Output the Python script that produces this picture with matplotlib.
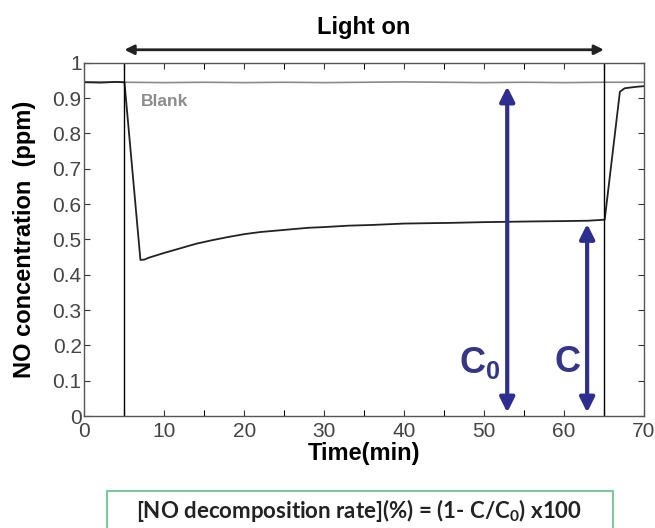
# coding: utf-8

# NO concentration during photocatalysis test (light on between 5 and 65 min)

import numpy as np
import matplotlib.pyplot as plt
from matplotlib.patches import FancyBboxPatch

plt.rcParams['font.family'] = ['Liberation Sans', 'DejaVu Sans']
plt.rcParams['mathtext.fontset'] = 'custom'
plt.rcParams['mathtext.rm'] = 'Liberation Sans:bold'
plt.rcParams['mathtext.bf'] = 'Liberation Sans:bold'

# Measured NO concentration (ppm) vs time (min)
time_min = [0, 2, 4, 5, 7.0, 7.5, 8, 9, 10, 12, 14, 16, 18, 20, 22, 25,
            28, 30, 33, 36, 40, 43, 46, 50, 53, 56, 60, 63, 65.1, 67.0,
            67.6, 69, 70]
no_ppm = [0.945, 0.944, 0.946, 0.945, 0.442, 0.443, 0.448, 0.455, 0.462,
          0.475, 0.488, 0.498, 0.507, 0.515, 0.521, 0.527, 0.533, 0.535, 0.539,
          0.541, 0.545, 0.546, 0.547, 0.549, 0.550, 0.551, 0.552, 0.553, 0.556,
          0.918, 0.928, 0.932, 0.934]

# Blank run (no light)
blank_time = [0, 5, 10, 15, 20, 25, 30, 35, 40, 45, 50, 55, 60, 65, 70]
blank_ppm = [0.946, 0.945, 0.944, 0.945, 0.944, 0.945, 0.944, 0.945, 0.946,
             0.945, 0.944, 0.945, 0.944, 0.945, 0.945]

light_on = (5, 65)
c0_value = 0.945
c_value = 0.556
c0_time = 52.9
c_time = 62.9

fig = plt.figure(figsize=(6.55, 5.28), dpi=100)
ax = fig.add_axes([0.129, 0.212, 0.854, 0.669])

ax.plot(blank_time, blank_ppm, color='#8a8a8a', lw=1.2)
ax.plot(time_min, no_ppm, color='#222222', lw=1.3)
for t in light_on:
    ax.axvline(t, color='black', lw=1.0)

ax.set_xlim(0, 70)
ax.set_ylim(0, 1)
ax.set_xticks(np.arange(0, 71, 10))
ax.set_xticks(np.arange(0, 71, 5), minor=True)
ax.set_yticks(np.arange(0, 1.01, 0.1))
ax.set_yticklabels(['0', '0.1', '0.2', '0.3', '0.4', '0.5', '0.6', '0.7', '0.8', '0.9', '1'])
ax.tick_params(direction='in', top=True, right=True, labelsize=15, length=4,
               width=0.8, colors='#333333', labelcolor='#444444')
ax.tick_params(axis='y', pad=2)
ax.tick_params(axis='x', pad=4)
ax.tick_params(which='minor', direction='in', top=True, length=4, width=0.8)
for s in ax.spines.values():
    s.set_color('#555555')
    s.set_linewidth(1.0)

ax.set_xlabel('Time(min)', fontsize=17, fontweight='bold', labelpad=1)
ax.set_ylabel('NO concentration  (ppm)', fontsize=17, fontweight='bold', labelpad=12)

ax.text(7.0, 0.89, 'Blank', color='#8c8c8c', fontsize=12.5, fontweight='bold',
        va='center')

# Light on span arrow above the axes
ax.annotate('', xy=(light_on[0], 1.037), xytext=(light_on[1], 1.037),
            xycoords=('data', 'axes fraction'), textcoords=('data', 'axes fraction'),
            arrowprops=dict(arrowstyle='<|-|>', color='#222222', lw=2,
                            mutation_scale=14, shrinkA=0, shrinkB=0),
            annotation_clip=False)
ax.text(35, 1.10, 'Light on', transform=ax.get_xaxis_transform(), ha='center',
        va='center', fontsize=17, fontweight='bold')

# C0 and C arrows
arrow_color = '#2e2e90'
for t, top in [(c0_time, c0_value), (c_time, c_value)]:
    ax.annotate('', xy=(t, 0.01), xytext=(t, top - 0.012),
                arrowprops=dict(arrowstyle='<|-|>', color=arrow_color, lw=3,
                                mutation_scale=22, shrinkA=0, shrinkB=0))
ax.text(49.4, 0.15, r'$\mathbf{C}_\mathbf{0}$', color='#35358a', fontsize=26,
        ha='center', va='center')
ax.text(60.4, 0.153, 'C', color='#35358a', fontsize=26, fontweight='bold',
        ha='center', va='center')

# Decomposition rate formula in a framed box
box = FancyBboxPatch((107 / 655, -0.02), (613 - 107) / 655, (528 - 491) / 528 + 0.02,
                     boxstyle='square,pad=0', transform=fig.transFigure,
                     facecolor='white', edgecolor='#7cc89a', lw=1.5)
fig.patches.append(box)
fig.text(359 / 655, 1 - 510 / 528, r'[NO decomposition rate](%) = (1- C/C$_\mathregular{0}$) x100',
         ha='center', va='center', fontsize=16, fontweight='bold',
         family=['Lato', 'DejaVu Sans'], color='#222222')

fig.savefig('out.png', dpi=100)
